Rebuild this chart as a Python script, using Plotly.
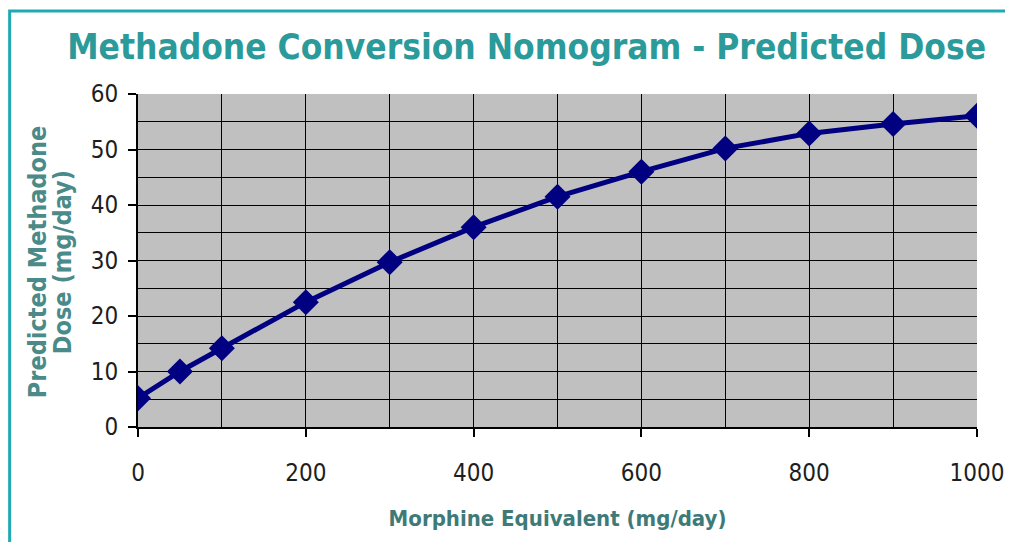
import plotly.graph_objects as go

morphine = [0, 50, 100, 200, 300, 400, 500, 600, 700, 800, 900, 1000]
methadone = [5.2, 10.0, 14.2, 22.5, 29.7, 36.0, 41.5, 46.0, 50.2, 52.9, 54.6, 56.1]
x_tick_vals = [0, 200, 400, 600, 800, 1000]
y_tick_vals = [0, 10, 20, 30, 40, 50, 60]
y_title_lines = ["Predicted Methadone", "Dose (mg/day)"]

FONT = "DejaVu Sans Condensed, DejaVu Sans, sans-serif"

fig = go.Figure()
fig.add_trace(go.Scatter(
    x=morphine, y=methadone, mode="lines+markers",
    line=dict(color="#000080", width=5),
    marker=dict(symbol="diamond", size=20, color="#000080"),
    showlegend=False, hoverinfo="x+y",
))

fig.update_layout(
    width=1013, height=542,
    margin=dict(l=130, r=44, t=86, b=123),
    paper_bgcolor="white",
    plot_bgcolor="#c0c0c0",
    title=dict(
        text="<b>Methadone Conversion Nomogram - Predicted Dose</b>",
        font=dict(family=FONT, size=35, color="#2b9a9a"),
        x=0.512, xanchor="center", y=0.928, yanchor="middle",
    ),
    xaxis=dict(
        range=[0, 1000], tickvals=x_tick_vals,
        ticks="outside", ticklen=8, tickcolor="black", tickwidth=1.5,
        showgrid=True, gridcolor="black", gridwidth=1.3,
        minor=dict(dtick=100, showgrid=True, gridcolor="black", gridwidth=1.3),
        tickfont=dict(family=FONT, size=24, color="#1e1e1e"),
        zeroline=False, showline=True, linecolor="black", linewidth=2,
        title=dict(text="<b>Morphine Equivalent (mg/day)</b>",
                   font=dict(family=FONT, size=22, color="#3e7a78"), standoff=25),
        ticklabelstandoff=15,
    ),
    yaxis=dict(
        range=[0, 60], tickvals=y_tick_vals,
        ticks="outside", ticklen=8, tickcolor="black", tickwidth=1.5,
        showgrid=True, gridcolor="black", gridwidth=1.3,
        minor=dict(dtick=5, showgrid=True, gridcolor="black", gridwidth=1.3),
        tickfont=dict(family=FONT, size=24, color="#1e1e1e"),
        zeroline=False, showline=True, linecolor="black", linewidth=2,
        ticklabelstandoff=5,
    ),
)

for xpos, line in zip([-0.1204, -0.0906], y_title_lines):
    fig.add_annotation(
        text="<b>" + line + "</b>", xref="paper", yref="paper",
        x=xpos, y=0.495, xanchor="center", yanchor="middle",
        textangle=-90, showarrow=False,
        font=dict(family=FONT, size=25, color="#4a8a88"),
    )

fig.add_shape(type="rect", xref="paper", yref="paper",
              x0=-0.153, x1=1.2, y0=-0.5, y1=1.249,
              line=dict(color="#22aab4", width=3), fillcolor="rgba(0,0,0,0)", layer="below")

fig.write_html("out.html")
